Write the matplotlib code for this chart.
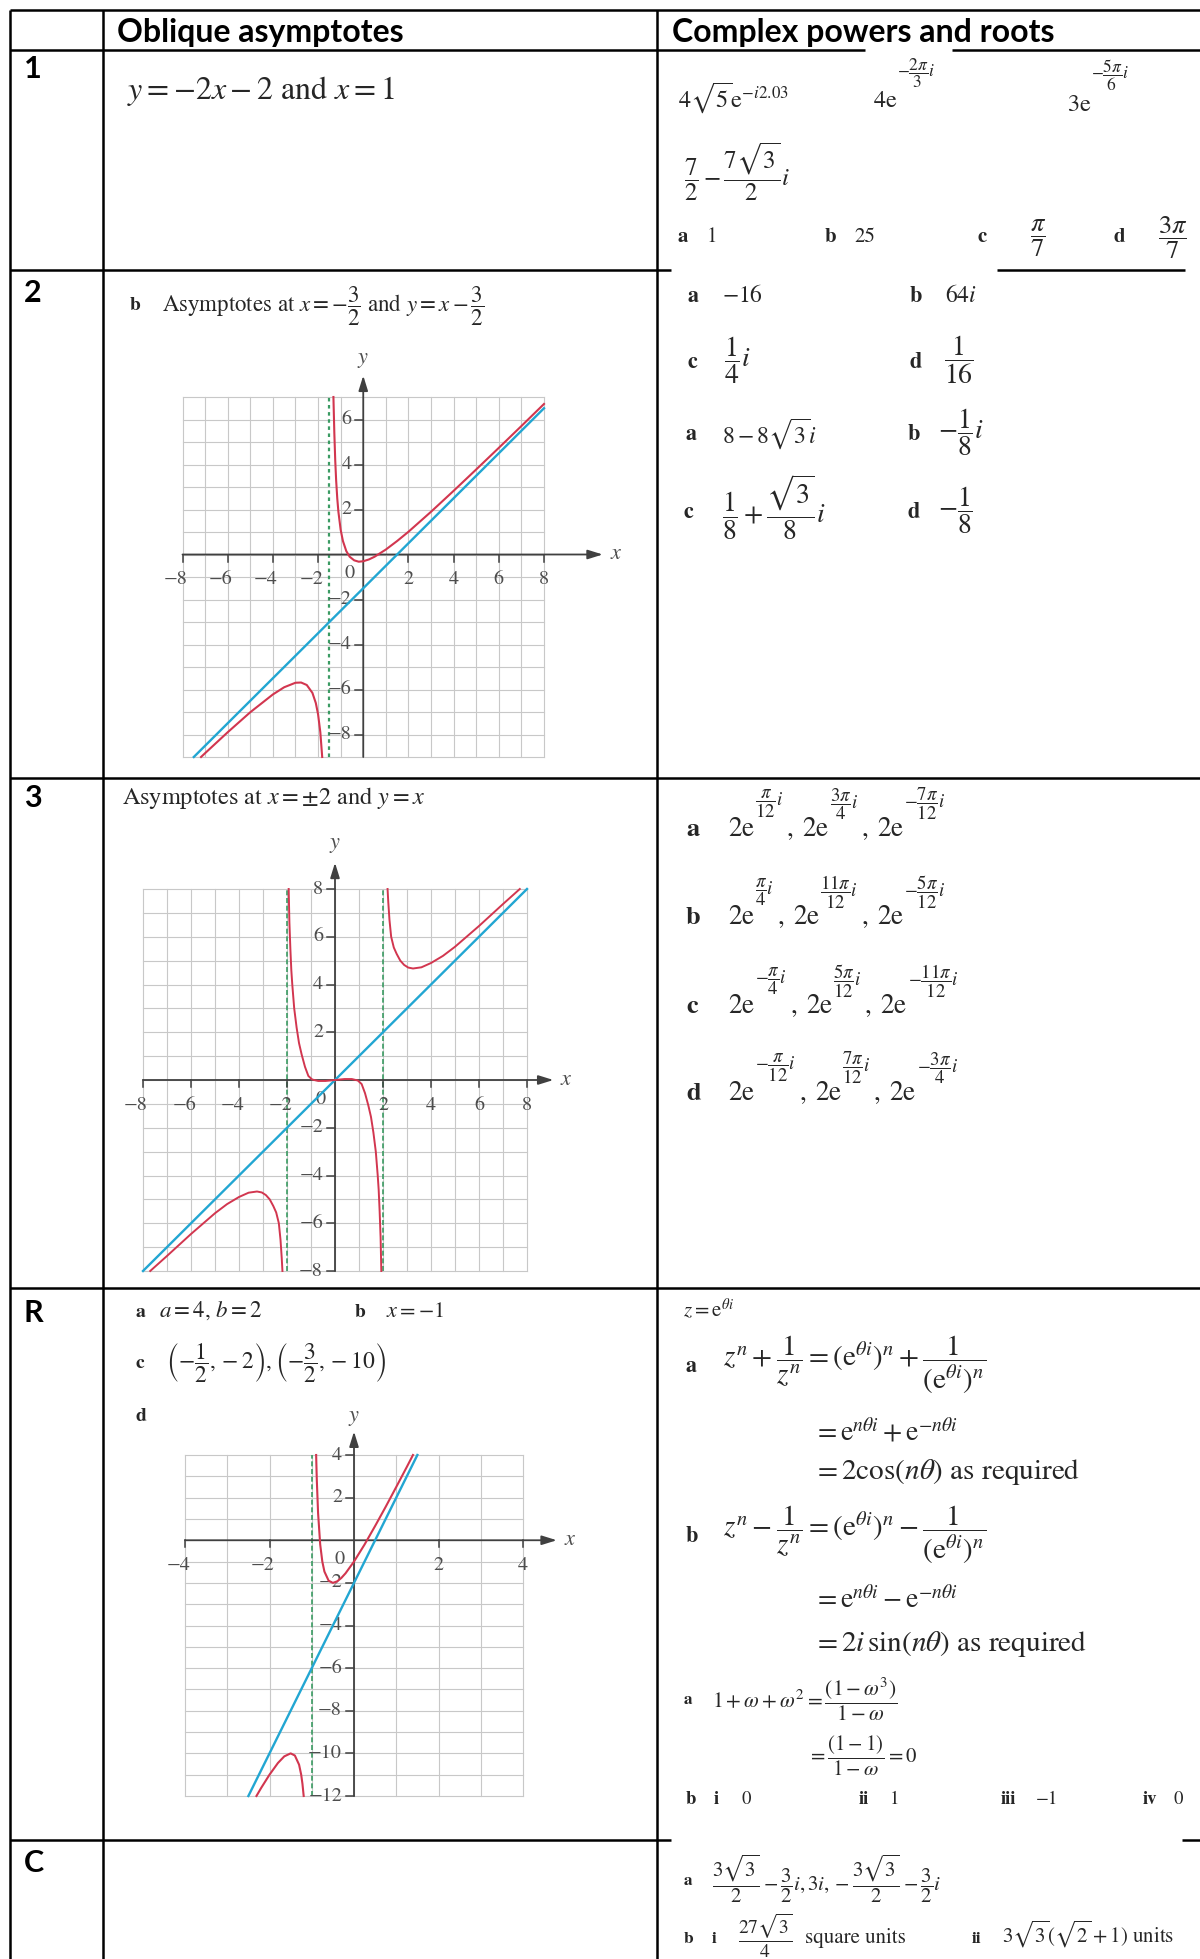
import matplotlib
matplotlib.use('Agg')
import matplotlib.pyplot as plt

plt.rcParams['mathtext.fontset'] = 'stix'
plt.rcParams['font.family'] = ['STIXGeneral', 'DejaVu Sans']

W, H = 1200, 1959
INK = '#262626'
GINK = '#4d4d4d'
AXC = '#404040'
GRID = '#c8c8c8'
RED = '#d2364f'
BLUE = '#22a6d2'
GREEN = '#3b9b63'
HEAD_FONT = ['Lato', 'DejaVu Sans']

# ---------------- data ----------------
headers = ['Oblique asymptotes', 'Complex powers and roots']
row_labels = ['1', '2', '3', 'R', 'C']

# Question 2b graph: asymptotes x = -3/2 and y = x - 3/2
q2_xticks = [-8, -6, -4, -2, 2, 4, 6, 8]
q2_yticks = [6, 4, 2, -2, -4, -6, -8]
q2_asym_x = [-1.5]
q2_line_x = [-7.5, 8.0]
q2_line_y = [-9.0, 6.5]
q2_right_x = [-1.32, -1.28, -1.24, -1.2, -1.15, -1.1, -1.0, -0.9, -0.75, -0.6, -0.4,
              -0.2, 0.0, 0.25, 0.5, 1.0, 1.5, 2.0, 3.0, 4.0, 5.0, 6.0, 7.0, 8.0]
q2_right_y = [7.0, 5.4, 4.18, 3.3, 2.49, 1.9, 1.1, 0.6, 0.15, -0.1, -0.26,
              -0.32, -0.3, -0.22, -0.1, 0.22, 0.6, 1.01, 1.9, 2.83, 3.78, 4.74, 5.71, 6.69]
q2_left_x = [-7.18, -7.0, -6.0, -5.0, -4.0, -3.5, -3.0, -2.75, -2.5, -2.25, -2.1, -2.0, -1.9, -1.817]
q2_left_y = [-9.0, -8.83, -7.9, -7.01, -6.22, -5.9, -5.7, -5.69, -5.8, -6.15, -6.6, -7.1, -7.9, -9.0]

# Question 3 graph: asymptotes x = +-2 and y = x
q3_xticks = [-8, -6, -4, -2, 2, 4, 6, 8]
q3_yticks = [8, 6, 4, 2, -2, -4, -6, -8]
q3_asym_x = [-2.0, 2.0]
q3_line_x = [-8.0, 8.0]
q3_line_y = [-8.0, 8.0]
q3_right_x = [2.19, 2.22, 2.27, 2.34, 2.45, 2.57, 2.72, 2.88, 3.05, 3.25, 3.6, 4.0, 4.5, 5.0, 6.0, 7.0, 7.7]
q3_right_y = [8.0, 7.45, 6.7, 6.0, 5.55, 5.28, 5.0, 4.82, 4.71, 4.67, 4.72, 4.9, 5.2, 5.58, 6.45, 7.37, 8.0]
q3_left_x = [-7.7, -7.0, -6.0, -5.0, -4.5, -4.0, -3.6, -3.25, -3.05, -2.88, -2.72, -2.57, -2.45, -2.34, -2.27, -2.22, -2.19]
q3_left_y = [-8.0, -7.37, -6.45, -5.58, -5.2, -4.9, -4.72, -4.67, -4.71, -4.82, -5.0, -5.28, -5.55, -6.0, -6.7, -7.45, -8.0]
q3_mid_x = [-1.93, -1.9, -1.86, -1.82, -1.78, -1.7, -1.6, -1.5, -1.39, -1.25, -1.11, -0.95, -0.7, -0.4, 0.0,
            0.4, 0.7, 0.95, 1.11, 1.25, 1.39, 1.5, 1.6, 1.7, 1.78, 1.82, 1.86, 1.9, 1.93]
q3_mid_y = [8.0, 6.6, 5.5, 4.6, 4.0, 3.0, 2.2, 1.55, 1.07, 0.55, 0.17, 0.02, -0.04, -0.04, 0.0,
            0.04, 0.04, -0.02, -0.17, -0.55, -1.07, -1.55, -2.2, -3.0, -4.0, -4.6, -5.5, -6.6, -8.0]

# Review question graph: asymptotes x = -1 and y = 4x - 2
qr_xticks = [-4, -2, 2, 4]
qr_yticks = [4, 2, -2, -4, -6, -8, -10, -12]
qr_asym_x = [-1.0]
qr_line_x = [-2.5, 1.5]
qr_line_y = [-12.0, 4.0]
qr_right_x = [-0.896, -0.89, -0.88, -0.85, -0.8, -0.75, -0.7, -0.6, -0.5, -0.4, -0.3, -0.2,
              0.0, 0.25, 0.5, 0.75, 1.0, 1.25, 1.396]
qr_right_y = [4.0, 3.53, 2.81, 1.27, -0.2, -1.0, -1.47, -1.9, -2.0, -1.93, -1.77, -1.55,
              -1.0, -0.2, 0.67, 1.57, 2.5, 3.44, 4.0]
qr_left_x = [-2.309, -2.2, -2.0, -1.8, -1.65, -1.5, -1.4, -1.3, -1.25, -1.22, -1.191]
qr_left_y = [-12.0, -11.63, -11.0, -10.45, -10.14, -10.0, -10.1, -10.53, -11.0, -11.43, -12.0]

# ---------------- figure ----------------
fig = plt.figure(figsize=(W / 100, H / 100), dpi=100)
base = fig.add_axes([0, 0, 1, 1])
base.set_xlim(0, W)
base.set_ylim(H, 0)
base.axis('off')
renderer = fig.canvas.get_renderer()


def T(x, y, s, size=15, bold=False, ha='left', va='baseline', color=INK, family=None):
    kw = {}
    if family is not None:
        kw['family'] = family
    return base.text(x, y, s, fontsize=size, fontweight='bold' if bold else 'normal',
                     ha=ha, va=va, color=color, **kw)


def seq(x, yb, pieces):
    """Lay pieces left to right; each piece is (text, size, raise_px)."""
    for s, size, dy in pieces:
        if dy == 0:
            t = T(x, yb, s, size=size)
        else:
            t = T(x, yb - dy, s, size=size, va='center')
        x += t.get_window_extent(renderer).width
    return x


# table rules
LW = 1.8


def hline(y, segs):
    for a, b in segs:
        base.plot([a, b], [y, y], color='black', lw=LW, solid_capstyle='butt')


hline(10, [(10, 1200)])
hline(50, [(10, 865), (952, 1200)])
hline(270, [(10, 671), (997, 1185)])
hline(778, [(10, 1200)])
hline(1288, [(10, 1200)])
hline(1840, [(10, 671), (1182, 1200)])
for xv in (10, 103, 657):
    base.plot([xv, xv], [10, H], color='black', lw=LW, solid_capstyle='butt')

# headers and row labels
T(117, 42, headers[0], size=23, bold=True, family=HEAD_FONT, color='black')
T(672, 42, headers[1], size=23, bold=True, family=HEAD_FONT, color='black')
for lab, yb in zip(row_labels, [78, 302, 807, 1322, 1872]):
    T(24, yb, lab, size=22, bold=True, family=HEAD_FONT, color='black')

# ---- row 1 ----
T(127, 99, r'$y=-2x-2$ and $x=1$', size=23)
T(678, 107, r'$4\sqrt{5}\mathrm{e}^{-i2.03}$', size=17.5)
seq(873, 107, [(r'$4\mathrm{e}$', 17.5, 0), (r'$-\dfrac{2\pi}{3}i$', 12.5, 34)])
seq(1067, 111, [(r'$3\mathrm{e}$', 17.5, 0), (r'$-\dfrac{5\pi}{6}i$', 12.5, 36)])
T(684, 172, r'$\dfrac{7}{2}-\dfrac{7\sqrt{3}}{2}i$', size=18, va='center')
T(678, 242, 'a', size=15, bold=True)
T(707, 242, '1', size=15)
T(825, 242, 'b', size=15, bold=True)
T(854, 242, '25', size=15)
T(978, 242, 'c', size=15, bold=True)
T(1038, 238, r'$\dfrac{\pi}{7}$', size=19, ha='center', va='center')
T(1114, 242, 'd', size=15, bold=True)
T(1173, 238, r'$\dfrac{3\pi}{7}$', size=19, ha='center', va='center')

# ---- row 2 ----
T(130, 306, 'b', size=14, bold=True, va='center')
T(162, 306, r'Asymptotes at $x=-\dfrac{3}{2}$ and $y=x-\dfrac{3}{2}$', size=16.5, va='center')

T(688, 296, 'a', size=16, bold=True, va='center')
T(722, 296, r'$-16$', size=17, va='center')
T(910, 296, 'b', size=16, bold=True, va='center')
T(945, 296, r'$64i$', size=17, va='center')
T(688, 362, 'c', size=16, bold=True, va='center')
T(724, 360, r'$\dfrac{1}{4}i$', size=20, va='center')
T(910, 362, 'd', size=16, bold=True, va='center')
T(944, 360, r'$\dfrac{1}{16}$', size=20, va='center')
T(686, 434, 'a', size=16, bold=True, va='center')
T(722, 434, r'$8-8\sqrt{3}i$', size=17, va='center')
T(908, 434, 'b', size=16, bold=True, va='center')
T(938, 432, r'$-\dfrac{1}{8}i$', size=20, va='center')
T(684, 512, 'c', size=16, bold=True, va='center')
T(722, 507, r'$\dfrac{1}{8}+\dfrac{\sqrt{3}}{8}i$', size=20, va='center')
T(908, 512, 'd', size=16, bold=True, va='center')
T(938, 510, r'$-\dfrac{1}{8}$', size=20, va='center')

# ---- row 3 ----
T(122, 804, r'Asymptotes at $x=\pm2$ and $y=x$', size=17.5)
row3_exps = [
    ('a', [r'\dfrac{\pi}{12}i', r'\dfrac{3\pi}{4}i', r'-\dfrac{7\pi}{12}i'], 836),
    ('b', [r'\dfrac{\pi}{4}i', r'\dfrac{11\pi}{12}i', r'-\dfrac{5\pi}{12}i'], 924),
    ('c', [r'-\dfrac{\pi}{4}i', r'\dfrac{5\pi}{12}i', r'-\dfrac{11\pi}{12}i'], 1013),
    ('d', [r'-\dfrac{\pi}{12}i', r'\dfrac{7\pi}{12}i', r'-\dfrac{3\pi}{4}i'], 1100),
]
for lab, exps, yb in row3_exps:
    T(686, yb, lab, size=19, bold=True)
    pieces = []
    for k, e in enumerate(exps):
        pieces.append((r'$2\mathrm{e}$' if k == 0 else r'$\,,\;2\mathrm{e}$', 19.5, 0))
        pieces.append(('$' + e + '$', 13.5, 32))
    seq(728, yb, pieces)

# ---- row R ----
T(136, 1317, 'a', size=14, bold=True)
T(159, 1317, r'$a=4,\,b=2$', size=16.5)
T(355, 1317, 'b', size=14, bold=True)
T(386, 1317, r'$x=-1$', size=16)
T(136, 1368, 'c', size=14, bold=True)
T(166, 1363, r'$\left(-\dfrac{1}{2},-2\right),\left(-\dfrac{3}{2},-10\right)$', size=17, va='center')
T(136, 1421, 'd', size=14, bold=True)

T(683, 1316, r'$z=\mathrm{e}^{\theta i}$', size=15)
T(686, 1372, 'a', size=16, bold=True)
T(723, 1365, r'$z^n+\dfrac{1}{z^n}=(\mathrm{e}^{\theta i})^n+\dfrac{1}{(\mathrm{e}^{\theta i})^n}$', size=21, va='center')
T(813, 1441, r'$=\mathrm{e}^{n\theta i}+\mathrm{e}^{-n\theta i}$', size=20)
T(813, 1479, r'$=2\cos(n\theta)$ as required', size=21)
T(686, 1542, 'b', size=16, bold=True)
T(723, 1535, r'$z^n-\dfrac{1}{z^n}=(\mathrm{e}^{\theta i})^n-\dfrac{1}{(\mathrm{e}^{\theta i})^n}$', size=21, va='center')
T(813, 1608, r'$=\mathrm{e}^{n\theta i}-\mathrm{e}^{-n\theta i}$', size=20)
T(813, 1651, r'$=2i\,\sin(n\theta)$ as required', size=21)
T(684, 1704, 'a', size=12.5, bold=True)
T(712, 1699, r'$1+\omega+\omega^2=\dfrac{(1-\omega^3)}{1-\omega}$', size=15.5, va='center')
T(807, 1756, r'$=\dfrac{(1-1)}{1-\omega}=0$', size=15, va='center')
for s, xx, bold in [('b', 686, True), ('i', 714, True), ('0', 742, False), ('ii', 859, True), ('1', 890, False),
                    ('iii', 1001, True), ('\u22121', 1036, False), ('iv', 1143, True), ('0', 1173, False)]:
    T(xx, 1804, s, size=13.5, bold=bold)

# ---- row C ----
T(684, 1885, 'a', size=12.5, bold=True)
T(712, 1879, r'$\dfrac{3\sqrt{3}}{2}-\dfrac{3}{2}i,3i,-\dfrac{3\sqrt{3}}{2}-\dfrac{3}{2}i$', size=15, va='center')
T(684, 1943, 'b', size=12.5, bold=True)
T(712, 1943, 'i', size=12.5, bold=True)
T(738, 1936, r'$\dfrac{27\sqrt{3}}{4}$', size=14, va='center')
T(805, 1943, 'square units', size=15)
T(972, 1943, 'ii', size=12.5, bold=True)
T(1002, 1943, r'$3\sqrt{3}(\sqrt{2}+1)$ units', size=15)


# ---------------- graphs ----------------
def minus(v):
    return str(v).replace('-', '\u2212')


def make_graph(box, xlim, ylim):
    l, r, t, b = box
    ax = fig.add_axes([l / W, 1 - b / H, (r - l) / W, (b - t) / H])
    ax.set_xlim(xlim)
    ax.set_ylim(ylim)
    ax.axis('off')
    sx = (r - l) / (xlim[1] - xlim[0])
    sy = (b - t) / (ylim[1] - ylim[0])
    return ax, sx, sy


def draw_frame(ax, sx, sy, xlim, ylim, xticks, yticks, xtip, ytip, xlab, ylab, fs=14.5):
    for xv in range(xlim[0], xlim[1] + 1):
        ax.plot([xv, xv], ylim, color=GRID, lw=0.8, zorder=1, clip_on=False)
    for yv in range(ylim[0], ylim[1] + 1):
        ax.plot(xlim, [yv, yv], color=GRID, lw=0.8, zorder=1, clip_on=False)
    arrow = dict(arrowstyle='-|>,head_length=0.9,head_width=0.28', color=AXC, lw=1.3,
                 shrinkA=0, shrinkB=0)
    ax.annotate('', xy=(xtip, 0), xytext=(xlim[0], 0), arrowprops=arrow, annotation_clip=False, zorder=3)
    ax.annotate('', xy=(0, ytip), xytext=(0, ylim[0]), arrowprops=arrow, annotation_clip=False, zorder=3)
    ax.text(xlab, 0, r'$x$', fontsize=16, color=GINK, ha='center', va='center')
    ax.text(0, ylab, r'$y$', fontsize=16, color=GINK, ha='center', va='center')
    for t in xticks:
        ax.plot([t, t], [0, -7 / sy], color=AXC, lw=1.1, zorder=3, clip_on=False)
        if t < 0:
            ax.annotate(minus(t), (t, 0), xytext=(5 * 0.72, -25 * 0.72), textcoords='offset points',
                        ha='right', va='center', fontsize=fs, color=GINK, annotation_clip=False)
        else:
            ax.annotate(minus(t), (t, 0), xytext=(0, -25 * 0.72), textcoords='offset points',
                        ha='center', va='center', fontsize=fs, color=GINK, annotation_clip=False)
    for t in yticks:
        ax.plot([-8 / sx, 0], [t, t], color=AXC, lw=1.1, zorder=3, clip_on=False)
        ax.annotate(minus(t), (0, t), xytext=(-12 * 0.72, 0), textcoords='offset points',
                    ha='right', va='center', fontsize=fs, color=GINK, annotation_clip=False)
    ax.annotate('0', (0, 0), xytext=(-14 * 0.72, -19 * 0.72), textcoords='offset points',
                ha='center', va='center', fontsize=fs, color=GINK, annotation_clip=False)


# Q2 graph
ax2, sx, sy = make_graph((182.5, 544, 397, 757), (-8, 8), (-9, 7))
draw_frame(ax2, sx, sy, (-8, 8), (-9, 7), q2_xticks, q2_yticks, 10.6, 7.95, 11.2, 8.65)
for a in q2_asym_x:
    ax2.plot([a, a], [-9, 7], color=GREEN, lw=1.6, ls=(0, (1.6, 1.6)), zorder=2)
ax2.plot(q2_line_x, q2_line_y, color=BLUE, lw=1.7, zorder=4, clip_on=False)
ax2.plot(q2_right_x, q2_right_y, color=RED, lw=1.5, zorder=5, clip_on=False)
ax2.plot(q2_left_x, q2_left_y, color=RED, lw=1.5, zorder=5, clip_on=False)

# Q3 graph
ax3, sx, sy = make_graph((143, 527, 889, 1271), (-8, 8), (-8, 8))
draw_frame(ax3, sx, sy, (-8, 8), (-8, 8), q3_xticks, q3_yticks, 9.1, 9.1, 9.65, 9.85)
for a in q3_asym_x:
    ax3.plot([a, a], [-8, 8], color=GREEN, lw=1.2, ls=(0, (3, 1.6)), zorder=2)
ax3.plot(q3_line_x, q3_line_y, color=BLUE, lw=1.7, zorder=4, clip_on=False)
for xs, ys in [(q3_right_x, q3_right_y), (q3_left_x, q3_left_y), (q3_mid_x, q3_mid_y)]:
    ax3.plot(xs, ys, color=RED, lw=1.4, zorder=5, clip_on=False)

# Review graph
axr, sx, sy = make_graph((185, 523, 1455, 1796), (-4, 4), (-12, 4))
draw_frame(axr, sx, sy, (-4, 4), (-12, 4), qr_xticks, qr_yticks, 4.8, 5.1, 5.12, 5.75)
for a in qr_asym_x:
    axr.plot([a, a], [-12, 4], color=GREEN, lw=1.2, ls=(0, (3, 1.6)), zorder=2)
axr.plot(qr_line_x, qr_line_y, color=BLUE, lw=1.7, zorder=4, clip_on=False)
axr.plot(qr_right_x, qr_right_y, color=RED, lw=1.5, zorder=5, clip_on=False)
axr.plot(qr_left_x, qr_left_y, color=RED, lw=1.5, zorder=5, clip_on=False)

fig.savefig('out.png', dpi=100, facecolor='white')
